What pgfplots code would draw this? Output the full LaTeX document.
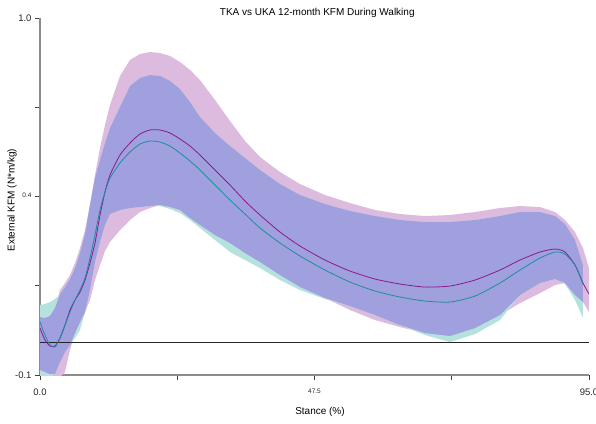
\documentclass[border=0pt]{standalone}
\usepackage{fontspec}
\setmainfont{Liberation Sans}
\usepackage{pgfplots}
\pgfplotsset{compat=1.18}
\usepackage{pgfplotstable}
\usepgfplotslibrary{fillbetween}
\definecolor{tkaband}{RGB}{220,187,222}
\definecolor{ukaband}{RGB}{182,226,221}
\definecolor{ovband}{RGB}{160,160,222}
\definecolor{tkaline}{RGB}{140,25,140}
\definecolor{ukaline}{RGB}{30,140,160}
\definecolor{axgray}{RGB}{140,140,140}
\newcommand{\smalltick}[1]{{\fontsize{6.5}{7}\selectfont\raisebox{2pt}{#1}}}

\pgfplotstableread{
x m up lo
0 0.0447 0.0786 -0.0847
0.865 0.0077 0.0755 -0.0909
1.730 -0.0108 0.0817 -0.0971
2.596 -0.0108 0.1063 -0.1032
3.461 0.0139 0.1618 -0.1063
4.326 0.0539 0.1834 -0.0909
5.191 0.1002 0.2080 -0.0231
6.056 0.1310 0.2450 0.0293
6.922 0.1556 0.2912 0.0632
7.787 0.1926 0.3467 0.0940
8.652 0.2450 0.4237 0.1310
9.517 0.3066 0.5162 0.1926
10.383 0.3929 0.5994 0.2388
11.248 0.4638 0.6703 0.2820
12.113 0.5162 0.7319 0.3097
13.843 0.5778 0.8213 0.3467
15.574 0.6148 0.8706 0.3775
17.304 0.6425 0.8891 0.4022
19.035 0.6549 0.8952 0.4145
20.765 0.6549 0.8921 0.4237
22.495 0.6456 0.8829 0.4176
24.226 0.6271 0.8644 0.4083
25.956 0.6055 0.8398 0.3837
27.687 0.5778 0.8089 0.3621
30.282 0.5316 0.7473 0.3313
32.878 0.4854 0.6826 0.3066
35.474 0.4361 0.6210 0.2758
38.069 0.3929 0.5717 0.2481
41.530 0.3405 0.5254 0.2080
44.991 0.2974 0.4884 0.1710
49.317 0.2542 0.4545 0.1371
53.643 0.2203 0.4299 0.1002
57.969 0.1957 0.4083 0.0693
62.295 0.1803 0.3960 0.0478
66.621 0.1710 0.3898 0.0293
70.947 0.1741 0.3929 0.0200
75.273 0.1926 0.4022 0.0447
79.599 0.2234 0.4145 0.0847
83.060 0.2542 0.4206 0.1217
86.521 0.2789 0.4176 0.1525
89.117 0.2881 0.4022 0.1772
90.847 0.2789 0.3775 0.1834
92.578 0.2388 0.3405 0.1464
93.962 0.1834 0.2912 0.1248
95.0 0.1495 0.2296 0.0940
}\tka

\pgfplotstableread{
x m up lo
0 0.0632 0.1156 -0.1063
0.865 0.0231 0.1186 -0.1094
1.730 -0.0077 0.1248 -0.1125
2.596 -0.0139 0.1341 -0.0971
3.461 0.0139 0.1495 -0.0601
4.326 0.0539 0.1710 -0.0293
5.191 0.0940 0.1957 -0.0077
6.056 0.1310 0.2296 0.0139
6.922 0.1618 0.2758 0.0385
7.787 0.1988 0.3344 0.0940
8.652 0.2604 0.4237 0.1618
9.517 0.3313 0.5069 0.2481
10.383 0.4083 0.5624 0.3097
11.248 0.4638 0.6148 0.3621
12.113 0.5069 0.6610 0.3960
13.843 0.5532 0.7257 0.4083
15.574 0.5871 0.7904 0.4145
17.304 0.6117 0.8151 0.4176
19.035 0.6210 0.8243 0.4206
20.765 0.6179 0.8213 0.4206
22.495 0.6055 0.8059 0.4114
24.226 0.5840 0.7812 0.3991
25.956 0.5593 0.7411 0.3775
27.687 0.5316 0.6949 0.3529
30.282 0.4854 0.6456 0.3159
32.878 0.4391 0.6055 0.2789
35.474 0.3960 0.5686 0.2542
38.069 0.3529 0.5316 0.2296
41.530 0.3066 0.4884 0.1926
44.991 0.2666 0.4545 0.1618
49.317 0.2234 0.4268 0.1341
53.643 0.1864 0.4052 0.1125
57.969 0.1587 0.3898 0.0847
62.295 0.1402 0.3775 0.0539
66.621 0.1279 0.3713 0.0231
70.947 0.1248 0.3713 0.0015
75.273 0.1433 0.3775 0.0262
79.599 0.1834 0.3898 0.0693
83.060 0.2234 0.4022 0.1464
86.521 0.2604 0.4022 0.1834
89.117 0.2789 0.3898 0.1957
90.847 0.2727 0.3652 0.1803
92.578 0.2388 0.3159 0.1310
93.962 0.1803 0.2388 0.0755
}\uka

\pgfplotstableread{
x up lo
0 0.0786 -0.0847
0.865 0.0755 -0.0909
1.730 0.0817 -0.0971
2.596 0.1063 -0.0971
3.461 0.1495 -0.0601
4.326 0.1710 -0.0293
5.191 0.1957 -0.0077
6.056 0.2296 0.0293
6.922 0.2758 0.0632
7.787 0.3344 0.0940
8.652 0.4237 0.1618
9.517 0.5069 0.2481
10.383 0.5624 0.3097
11.248 0.6148 0.3621
12.113 0.6610 0.3960
13.843 0.7257 0.4083
15.574 0.7904 0.4145
17.304 0.8151 0.4176
19.035 0.8243 0.4206
20.765 0.8213 0.4237
22.495 0.8059 0.4176
24.226 0.7812 0.4083
25.956 0.7411 0.3837
27.687 0.6949 0.3621
30.282 0.6456 0.3313
32.878 0.6055 0.3066
35.474 0.5686 0.2758
38.069 0.5316 0.2481
41.530 0.4884 0.2080
44.991 0.4545 0.1710
49.317 0.4268 0.1371
53.643 0.4052 0.1125
57.969 0.3898 0.0847
62.295 0.3775 0.0539
66.621 0.3713 0.0293
70.947 0.3713 0.0200
75.273 0.3775 0.0447
79.599 0.3898 0.0847
83.060 0.4022 0.1464
86.521 0.4022 0.1834
89.117 0.3898 0.1957
90.847 0.3652 0.1834
92.578 0.3159 0.1464
93.962 0.2388 0.1248
}\ovl

\begin{document}
\begin{tikzpicture}
\begin{axis}[
  at={(40pt,48pt)}, anchor=south west,
  scale only axis, width=549pt, height=357pt,
  xmin=0, xmax=95, ymin=-0.1, ymax=1.0,
  axis x line=bottom, axis y line=left,
  axis line style={draw=axgray, line width=1.2pt, -},
  xtick={0,23.75,47.5,71.25,95},
  xticklabels={0.0,,\smalltick{47.5},,95.0},
  ytick={-0.1,0.175,0.45,0.725,1.0},
  yticklabels={-0.1,,\smalltick{0.4},,1.0},
  tick align=outside, major tick length=5pt,
  tick style={draw=black!75, line width=0.8pt},
  tick label style={font=\fontsize{9.5}{11}\selectfont, text=black!85},
  xticklabel style={yshift=-5pt},
  title={TKA vs UKA 12-month KFM During Walking},
  title style={font=\fontsize{10}{12}\selectfont, at={(axis description cs:0.505,0.997)}, anchor=center},
  xlabel={Stance (\%)},
  xlabel style={font=\fontsize{10}{12}\selectfont, at={(axis description cs:0.51,-0.1036)}, anchor=center},
  ylabel={External KFM (N*m/kg)},
  ylabel style={font=\fontsize{10}{12}\selectfont, at={(axis description cs:-0.051,0.49)}, anchor=center, rotate=0},
  clip=true,
]
\addplot[draw=none, name path=tu, forget plot] table[x=x,y=up]{\tka};
\addplot[draw=none, name path=tl, forget plot] table[x=x,y=lo]{\tka};
\addplot[draw=none, name path=uu, forget plot] table[x=x,y=up]{\uka};
\addplot[draw=none, name path=ul, forget plot] table[x=x,y=lo]{\uka};
\addplot[draw=none, name path=ou, forget plot] table[x=x,y=up]{\ovl};
\addplot[draw=none, name path=ol, forget plot] table[x=x,y=lo]{\ovl};
\addplot[fill=tkaband, draw=none] fill between[of=tu and tl];
\addplot[fill=ukaband, draw=none] fill between[of=uu and ul];
\addplot[fill=ovband, draw=none] fill between[of=ou and ol];
\addplot[black!85, line width=0.8pt] coordinates {(0,0) (95,0)};
\addplot[tkaline, line width=0.8pt, smooth, tension=0.4] table[x=x,y=m]{\tka};
\addplot[ukaline, line width=0.8pt, smooth, tension=0.4] table[x=x,y=m]{\uka};
\end{axis}
\pgfresetboundingbox
\path[use as bounding box] (0,0) rectangle (596pt,423pt);
\end{tikzpicture}
\end{document}
